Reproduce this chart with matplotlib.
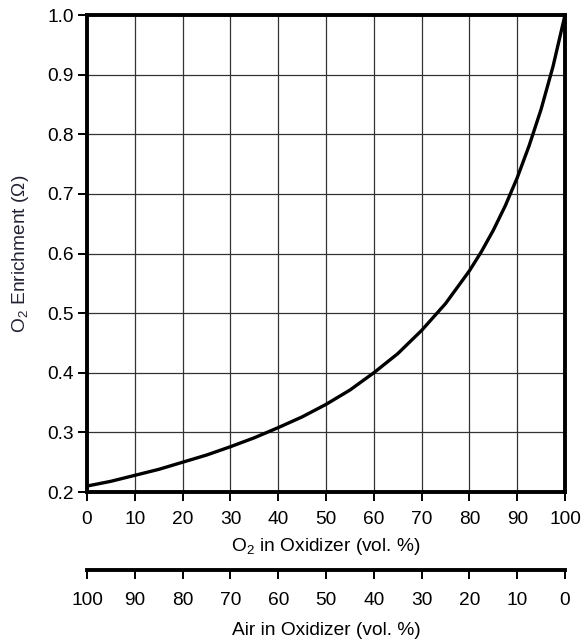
import matplotlib.pyplot as plt
import numpy as np

plt.rcParams['font.family'] = ['Liberation Sans', 'DejaVu Sans']
plt.rcParams['mathtext.fontset'] = 'custom'
plt.rcParams['mathtext.rm'] = 'Liberation Sans'

# O2 in oxidizer (vol. %) and enrichment
o2_pct = [0, 5, 10, 15, 20, 25, 30, 35, 40, 45, 50, 55, 60, 65, 70, 75, 80,
          82.5, 85, 87.5, 90, 92.5, 95, 97.5, 100]
omega = [0.210, 0.218, 0.228, 0.238, 0.250, 0.262, 0.276, 0.291, 0.308, 0.326, 0.347,
         0.371, 0.400, 0.432, 0.471, 0.516, 0.571,
         0.603, 0.639, 0.680, 0.727, 0.781, 0.842, 0.914, 1.000]

x_ticks = [0, 10, 20, 30, 40, 50, 60, 70, 80, 90, 100]
y_ticks = [0.2, 0.3, 0.4, 0.5, 0.6, 0.7, 0.8, 0.9, 1.0]
air_labels = ['100', '90', '80', '70', '60', '50', '40', '30', '20', '10', '0']

fs = 13.8

fig = plt.figure(figsize=(5.82, 6.39), dpi=100)
ax = fig.add_axes([0.1495, 0.2300, 0.8213, 0.7465])

ax.plot(o2_pct, omega, color='black', linewidth=2.4, zorder=3, solid_joinstyle='round')

ax.set_xlim(0, 100)
ax.set_ylim(0.2, 1.0)
ax.set_xticks(x_ticks)
ax.set_yticks(y_ticks)
ax.set_yticklabels([f'{v:.1f}' for v in y_ticks])
ax.grid(True, color='#333333', linewidth=0.9)
for s in ax.spines.values():
    s.set_linewidth(2.8)
ax.tick_params(direction='out', length=6.5, width=1.4, labelsize=fs, pad=3)
ax.tick_params(axis='x', pad=7)
ax.set_xlabel('O$_2$ in Oxidizer (vol. %)', fontsize=fs, labelpad=6)
ax.set_ylabel('O$_2$ Enrichment (Ω)', fontsize=fs, labelpad=12, color='#222233')

# second scale: air in oxidizer
ax2 = fig.add_axes([0.1495, 0.1080, 0.8213, 0.0001])
ax2.set_xlim(0, 100)
ax2.set_xticks(x_ticks)
ax2.set_xticklabels(air_labels)
ax2.set_yticks([])
for side in ['top', 'left', 'right']:
    ax2.spines[side].set_visible(False)
ax2.spines['bottom'].set_linewidth(2.8)
ax2.patch.set_visible(False)
ax2.tick_params(direction='out', length=6.5, width=1.4, labelsize=fs, pad=9.5)
ax2.set_xlabel('Air in Oxidizer (vol. %)', fontsize=fs, labelpad=9)

plt.savefig('out.png', dpi=100)
